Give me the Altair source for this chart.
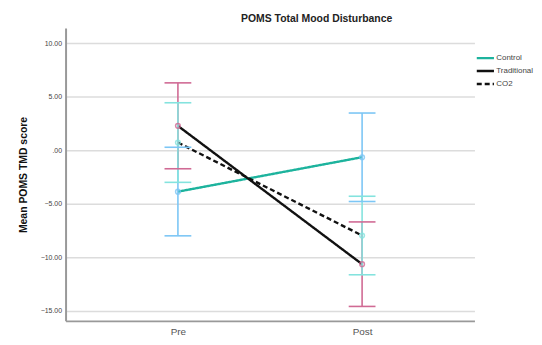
import altair as alt
import pandas as pd

groups = ["Control", "Traditional", "CO2"]
times = ["Pre", "Post"]
means = {"Control": [-3.87, -0.65], "Traditional": [2.28, -10.65], "CO2": [0.72, -7.97]}
ci_lo = {"Control": [-8.0, -4.79], "Traditional": [-1.73, -14.6], "CO2": [-3.0, -11.64]}
ci_hi = {"Control": [0.28, 3.48], "Traditional": [6.3, -6.7], "CO2": [4.44, -4.3]}

rows = []
for g in groups:
    for i, t in enumerate(times):
        rows.append({"group": g, "time": t, "mean": means[g][i], "lo": ci_lo[g][i], "hi": ci_hi[g][i]})
df = pd.DataFrame(rows)

line_colors = ["#1db39d", "#111111", "#111111"]
bar_colors = ["#7cc6f5", "#d06a94", "#84e3de"]
dashes = [[1, 0], [1, 0], [5, 3]]

font = "Liberation Sans"
x = alt.X("time:N", sort=times, title=None,
          scale=alt.Scale(type="point", padding=0.61),
          axis=alt.Axis(labelAngle=0, labelFontSize=10, labelColor="#555555", labelFont=font,
                        ticks=False, labelPadding=6, domainColor="#999999", domainWidth=2,
                        grid=False))
yscale = alt.Scale(domain=[-15.95, 11.42], nice=False, zero=False)
y = alt.Y("mean:Q", scale=yscale, title="Mean POMS TMD score",
          axis=alt.Axis(values=[10, 5, 0, -5, -10, -15],
                        labelExpr="datum.value == 0 ? '.00' : format(datum.value, '.2f')",
                        labelFontSize=7, labelColor="#444444", labelFont=font, ticks=False,
                        labelPadding=4, domainColor="#999999", domainWidth=2,
                        gridColor="#dcdcdc", gridWidth=1.5,
                        titleFont=font, titleFontSize=10.5, titleFontWeight="bold",
                        titleColor="#111111", titlePadding=12))

legend_cfg = dict(title=None, orient="none", legendX=413, legendY=24,
                  symbolType="stroke", symbolSize=300, symbolStrokeWidth=2.5,
                  clipHeight=12.5, rowPadding=0, labelFontSize=8,
                  labelFont=font, labelColor="#444444", labelOffset=1)

base = alt.Chart(df)

lines = base.mark_line(strokeWidth=2.4).encode(
    x=x, y=y,
    color=alt.Color("group:N", sort=groups,
                    scale=alt.Scale(domain=groups, range=line_colors),
                    legend=alt.Legend(**legend_cfg)),
    strokeDash=alt.StrokeDash("group:N", sort=groups,
                              scale=alt.Scale(domain=groups, range=dashes),
                              legend=alt.Legend(**legend_cfg)),
)

bar_stroke = alt.Stroke("group:N", scale=alt.Scale(domain=groups, range=bar_colors), legend=None)
bar_fill = alt.Fill("group:N", scale=alt.Scale(domain=groups, range=bar_colors), legend=None)

bars = base.mark_rule(strokeWidth=1.6).encode(
    x=x, y=alt.Y("lo:Q", scale=yscale), y2="hi:Q", stroke=bar_stroke)
cap_lo = base.mark_tick(orient="horizontal", size=27, thickness=1.6, strokeWidth=0, opacity=1).encode(
    x=x, y=alt.Y("lo:Q", scale=yscale), fill=bar_fill)
cap_hi = base.mark_tick(orient="horizontal", size=27, thickness=1.6, strokeWidth=0, opacity=1).encode(
    x=x, y=alt.Y("hi:Q", scale=yscale), fill=bar_fill)
points = base.mark_point(filled=False, size=22, strokeWidth=1.5, opacity=0.8).encode(
    x=x, y=alt.Y("mean:Q", scale=yscale), stroke=bar_stroke)

chart = alt.layer(lines, bars, cap_lo, cap_hi, points).properties(
    width=412, height=295,
    title=alt.TitleParams("POMS Total Mood Disturbance", font=font, fontSize=10.5,
                          fontWeight="bold", color="#222222", anchor="middle", dx=47, offset=4),
    autosize=alt.AutoSizeParams(type="none"),
    padding={"left": 58, "top": 19, "right": 60, "bottom": 15},
).configure_view(stroke=None).configure_axis(tickSize=0)

chart.save("out.html", embed_options={"renderer": "svg", "actions": False})
